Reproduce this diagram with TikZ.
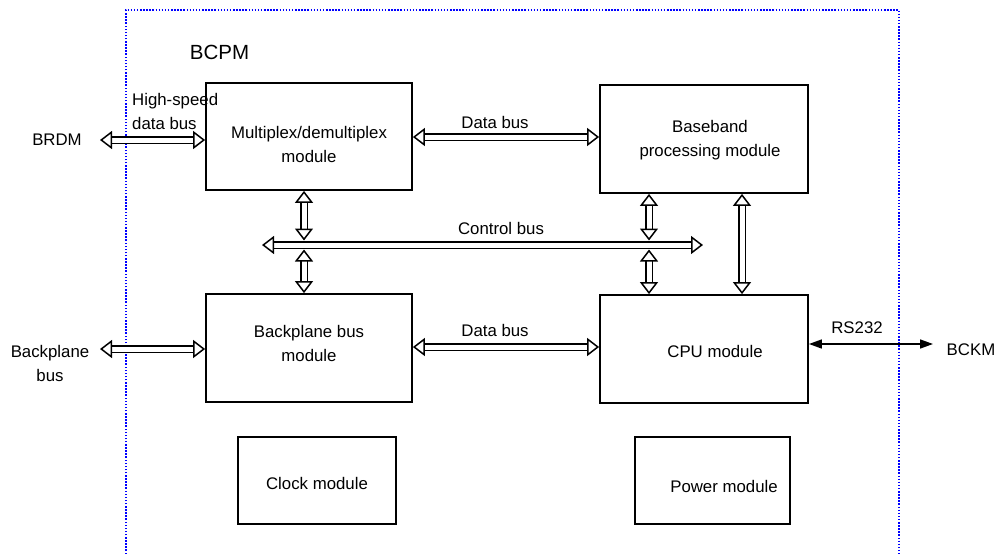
\documentclass[tikz,border=0pt]{standalone}
\usepackage{fontspec}
\setmainfont{Liberation Sans}
\usetikzlibrary{arrows.meta,calc}
\begin{document}
\begin{tikzpicture}[x=1pt,y=-1pt,
  txt/.style={font=\fontsize{16.8}{24}\selectfont, inner sep=0pt, align=center},
  box/.style={draw, line width=1.8pt, inner sep=0pt},
  lbl/.style={txt},
  bus/.style={double=white, double distance=5pt, line width=1.5pt,
    {Triangle[open,length=12pt,width=18pt,line width=1.5pt]}-{Triangle[open,length=12pt,width=18pt,line width=1.5pt]}},
  thin/.style={line width=1.6pt, {Triangle[length=13pt,width=9pt]}-{Triangle[length=13pt,width=9pt]}},
  border/.style={draw=blue, line width=1.6pt, dash pattern=on 1.5pt off 1.6pt}
]
\useasboundingbox (0,0) rectangle (1001,554);
% enclosure
\draw[border] (126,554) -- (126,10) -- (899,10) -- (899,554);
\node[txt, font=\fontsize{20.5}{24}\selectfont] (bcpm) at (219.5,52) {BCPM};

% boxes
\node[box, minimum width=206pt, minimum height=107pt,
  label={[lbl, yshift=-8pt]center:Multiplex/demultiplex\\module}] (mux) at (309,136.5) {};
\node[box, minimum width=208pt, minimum height=108pt,
  label={[lbl, xshift=6pt, yshift=-1.5pt]center:Baseband\\processing module}] (base) at (704,139) {};
\node[box, minimum width=206pt, minimum height=108pt,
  label={[lbl, yshift=5pt]center:Backplane bus\\module}] (bpb) at (309,348) {};
\node[box, minimum width=208pt, minimum height=108pt,
  label={[lbl, xshift=11pt, yshift=-2pt]center:CPU module}] (cpu) at (704,349) {};
\node[box, minimum width=158pt, minimum height=87pt,
  label={[lbl, yshift=-2.5pt]center:Clock module}] (clock) at (317,480.5) {};
\node[box, minimum width=155pt, minimum height=87pt,
  label={[lbl, xshift=11.5pt, yshift=-5.5pt]center:Power module}] (power) at (712.5,480.5) {};

% outside labels
\node[txt] (brdm) at (57,140) {BRDM};
\node[txt, align=left, anchor=west] (hs) at (132,111) {High-speed\\data bus};
\node[txt] (bpl) at (50,363) {Backplane\\bus};
\node[txt] (bckm) at (971,350) {BCKM};
\node[txt] (rs) at (857,328) {RS232};
\node[txt] (db1) at (495,122) {Data bus};
\node[txt] (db2) at (495,330) {Data bus};
\node[txt] (cb) at (501,228) {Control bus};

% coordinates
\coordinate (brdmE) at (100,140);
\coordinate (bplE) at (100,349);
\coordinate (cbL) at (262,245);
\coordinate (cbR) at (703,245);
\coordinate (cbT1) at (304,240.5);
\coordinate (cbB1) at (304,249.5);
\coordinate (cbT2) at (649,240.5);
\coordinate (cbB2) at (649,249.5);
\coordinate (bckmW) at (933,344);

% connectors
\draw[bus] (brdmE) -- (brdmE -| mux.west);
\draw[bus] (bplE) -- (bplE -| bpb.west);
\draw[bus] (mux.east |- 0,137) -- (base.west |- 0,137);
\draw[bus] (bpb.east |- 0,347) -- (cpu.west |- 0,347);
\draw[bus] (cbL) -- (cbR);
\draw[bus] (mux.south -| cbT1) -- (cbT1);
\draw[bus] (cbB1) -- (bpb.north -| cbB1);
\draw[bus] (base.south -| cbT2) -- (cbT2);
\draw[bus] (cbB2) -- (cpu.north -| cbB2);
\draw[bus] (base.south -| 742,0) -- (cpu.north -| 742,0);
\draw[thin] (cpu.east |- bckmW) -- (bckmW);
\end{tikzpicture}
\end{document}
